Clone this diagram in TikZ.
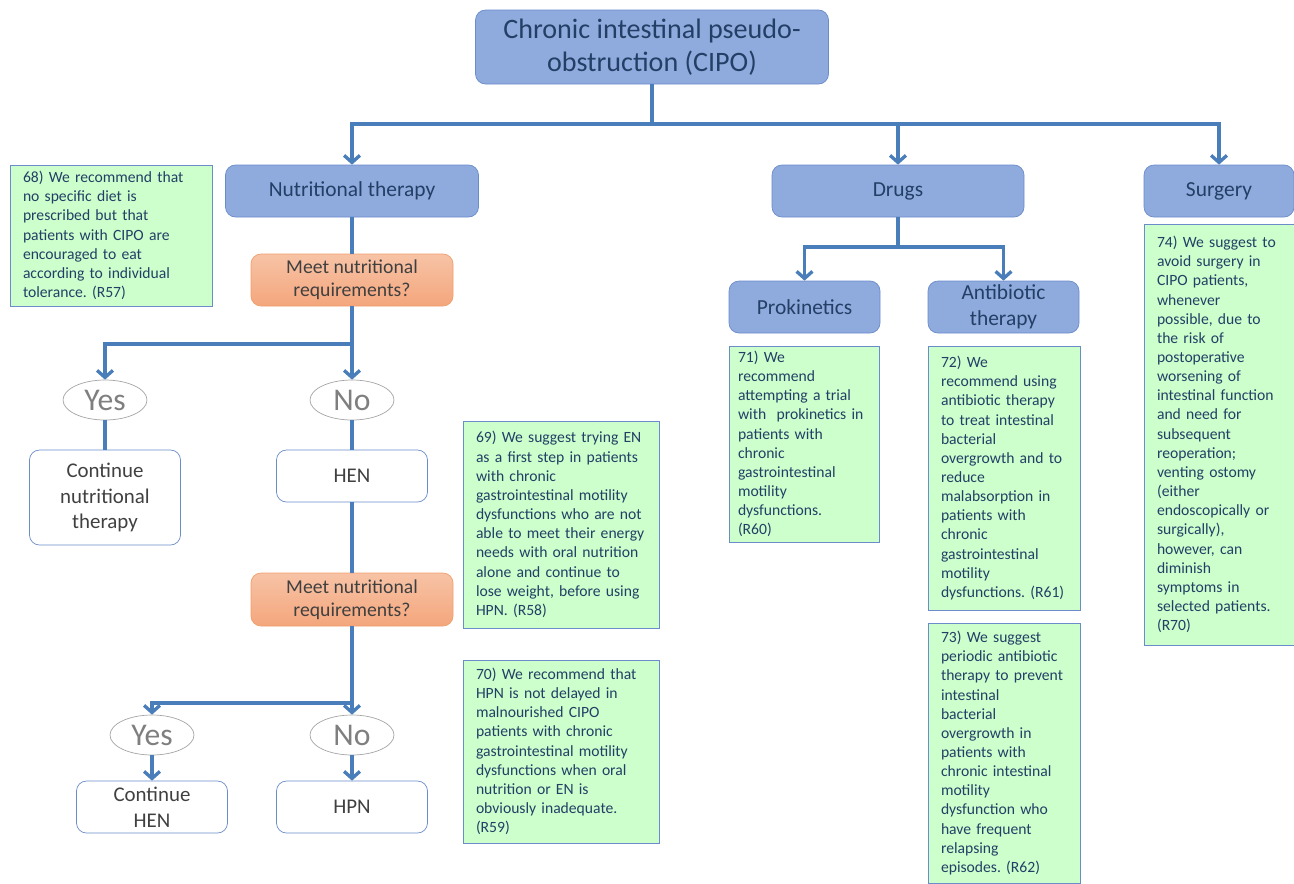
\documentclass[tikz,border=0pt]{standalone}
\usepackage{fontspec}
\setmainfont{Carlito}
\usetikzlibrary{shapes.geometric,arrows.meta}

\definecolor{boxblue}{HTML}{8FAADC}
\definecolor{edgeblue}{HTML}{6A8CCB}
\definecolor{txtblue}{HTML}{243F66}
\definecolor{linkblue}{HTML}{4A7EBB}
\definecolor{notegreen}{HTML}{CCFFCC}
\definecolor{asktop}{HTML}{F7C3A6}
\definecolor{askbottom}{HTML}{F4A67C}
\definecolor{askedge}{HTML}{F09E6A}
\definecolor{answergray}{HTML}{7F7F7F}
\definecolor{stepgray}{HTML}{404040}

\newcommand{\notesize}{\fontsize{8.9}{10.9}\selectfont}
\frenchspacing

\tikzset{
  boxsize/.style 2 args={minimum width=#1*0.02cm, minimum height=#2*0.02cm},
  topic/.style={draw=edgeblue, fill=boxblue, rounded corners=0.2cm, align=center,
    text=txtblue, inner sep=0pt, font=\fontsize{12.2}{14.7}\selectfont},
  ask/.style={draw=askedge, top color=asktop, bottom color=askbottom, rounded corners=0.2cm,
    align=center, text=stepgray, inner sep=0pt, font=\fontsize{11.2}{13}\selectfont},
  answer/.style={ellipse, draw=answergray!70, fill=white, inner sep=0pt, text=answergray,
    minimum width=1.68cm, minimum height=0.8cm, font=\fontsize{18}{20}\selectfont},
  stepbox/.style={draw=edgeblue, fill=white, rounded corners=0.2cm, align=center,
    text=stepgray, inner sep=0pt, font=\fontsize{11.9}{14.7}\selectfont},
  note/.style={draw=edgeblue, fill=notegreen, align=left, text=txtblue,
    inner xsep=0.26cm, inner ysep=0pt, font=\notesize},
  link/.style={draw=linkblue, line width=1.9pt},
  >={Straight Barb[length=4pt,width=9pt]}
}

\begin{document}
\begin{tikzpicture}[x=0.02cm,y=-0.02cm]
  \useasboundingbox (0,0) rectangle (1294,883);

  % top of the tree
  \node[topic, boxsize={353}{74}, font=\fontsize{16}{18.7}\selectfont] (cipo) at (652,47) {Chronic intestinal pseudo-\\obstruction (CIPO)};
  \node[topic, boxsize={253}{52}] (nutri) at (352,191) {Nutritional therapy};
  \node[topic, boxsize={252}{52}] (drugs) at (898,191) {Drugs};
  \node[topic, boxsize={150}{52}] (surgery) at (1219,191) {Surgery};
  \coordinate (bus) at (652,124);
  \draw[link] (cipo.south) -- (bus);
  \draw[link,->] (bus) -| (nutri.north);
  \draw[link,->] (bus) -| (drugs.north);
  \draw[link,->] (bus) -| (surgery.north);

  % nutritional branch
  \node[ask, boxsize={202}{52}] (meetA) at (352,280) {Meet nutritional\\requirements?};
  \node[answer] (yesA) at (105,400) {Yes};
  \node[answer] (noA) at (352,400) {No};
  \node[stepbox, boxsize={151}{95}] (contA) at (105,497.5) {Continue\\nutritional\\therapy};
  \node[stepbox, boxsize={151}{52}] (henA) at (352,476) {HEN};
  \coordinate (busA) at (352,344);
  \draw[link] (nutri.south) -- (meetA.north);
  \draw[link] (meetA.south) -- (busA);
  \draw[link,->] (busA) -| (yesA.north);
  \draw[link,->] (busA) -- (noA.north);
  \draw[link] (yesA.south) -- (contA.north);
  \draw[link] (noA.south) -- (henA.north);

  \node[ask, boxsize={202}{53}] (meetB) at (352,599.5) {Meet nutritional\\requirements?};
  \node[answer] (yesB) at (152,735) {Yes};
  \node[answer] (noB) at (352,735) {No};
  \node[stepbox, boxsize={151}{52}] (contB) at (152,807) {Continue\\HEN};
  \node[stepbox, boxsize={151}{52}] (hpn) at (352,807) {HPN};
  \coordinate (busB) at (352,703);
  \draw[link] (henA.south) -- (meetB.north);
  \draw[link] (meetB.south) -- (busB);
  \draw[link,->] (busB) -| (yesB.north);
  \draw[link,->] (busB) -- (noB.north);
  \draw[link,->] (yesB.south) -- (contB.north);
  \draw[link,->] (noB.south) -- (hpn.north);

  % drugs branch
  \node[topic, boxsize={151}{52}] (proki) at (804.5,307) {Prokinetics};
  \node[topic, boxsize={151}{52}] (anti) at (1003.5,307) {Antibiotic\\therapy};
  \coordinate (busD) at (898,247);
  \draw[link] (drugs.south) -- (busD);
  \draw[link,->] (busD) -| (proki.north);
  \draw[link,->] (busD) -| (anti.north);

  % recommendations
  \node[note, text width=176*0.02cm, minimum height=141*0.02cm] (r57) at (111,235.5) {68) We recommend that\\no specific diet is\\prescribed but that\\patients with CIPO are\\encouraged to eat\\according to individual\\tolerance. (R57)};
  \node[note, text width=170*0.02cm, minimum height=207*0.02cm] (r58) at (561,524.5) {69) We suggest trying EN\\as a first step in patients\\with chronic\\gastrointestinal motility\\dysfunctions who are not\\able to meet their energy\\needs with oral nutrition\\alone and continue to\\lose weight, before using\\HPN. (R58)};
  \node[note, text width=170*0.02cm, minimum height=183*0.02cm] (r59) at (561,751.5) {70) We recommend that\\HPN is not delayed in\\malnourished CIPO\\patients with chronic\\gastrointestinal motility\\dysfunctions when oral\\nutrition or EN is\\obviously inadequate.\\(R59)};
  \node[note, text width=132*0.02cm, inner xsep=9*0.02cm, minimum height=196*0.02cm] (r60) at (804,444) {71) We\\recommend\\attempting a trial\\with\ \ prokinetics in\\patients with\\chronic\\gastrointestinal\\motility\\dysfunctions.\\(R60)};
  \node[note, text width=126*0.02cm, minimum height=264*0.02cm] (r61) at (1004,478) {72) We\\recommend using\\antibiotic therapy\\to treat intestinal\\bacterial\\overgrowth and to\\reduce\\malabsorption in\\patients with\\chronic\\gastrointestinal\\motility\\dysfunctions. (R61)};
  \node[note, text width=126*0.02cm, minimum height=260*0.02cm] (r62) at (1004,753) {73) We suggest\\periodic antibiotic\\therapy to prevent\\intestinal\\bacterial\\overgrowth in\\patients with\\chronic intestinal\\motility\\dysfunction who\\have frequent\\relapsing\\episodes. (R62)};
  \node[note, text width=124*0.02cm, minimum height=421*0.02cm] (r70) at (1219,434.5) {74) We suggest to\\avoid surgery in\\CIPO patients,\\whenever\\possible, due to\\the risk of\\postoperative\\worsening of\\intestinal function\\and need for\\subsequent\\reoperation;\\venting ostomy\\(either\\endoscopically or\\surgically),\\however, can\\diminish\\symptoms in\\selected patients.\\(R70)};
\end{tikzpicture}
\end{document}
